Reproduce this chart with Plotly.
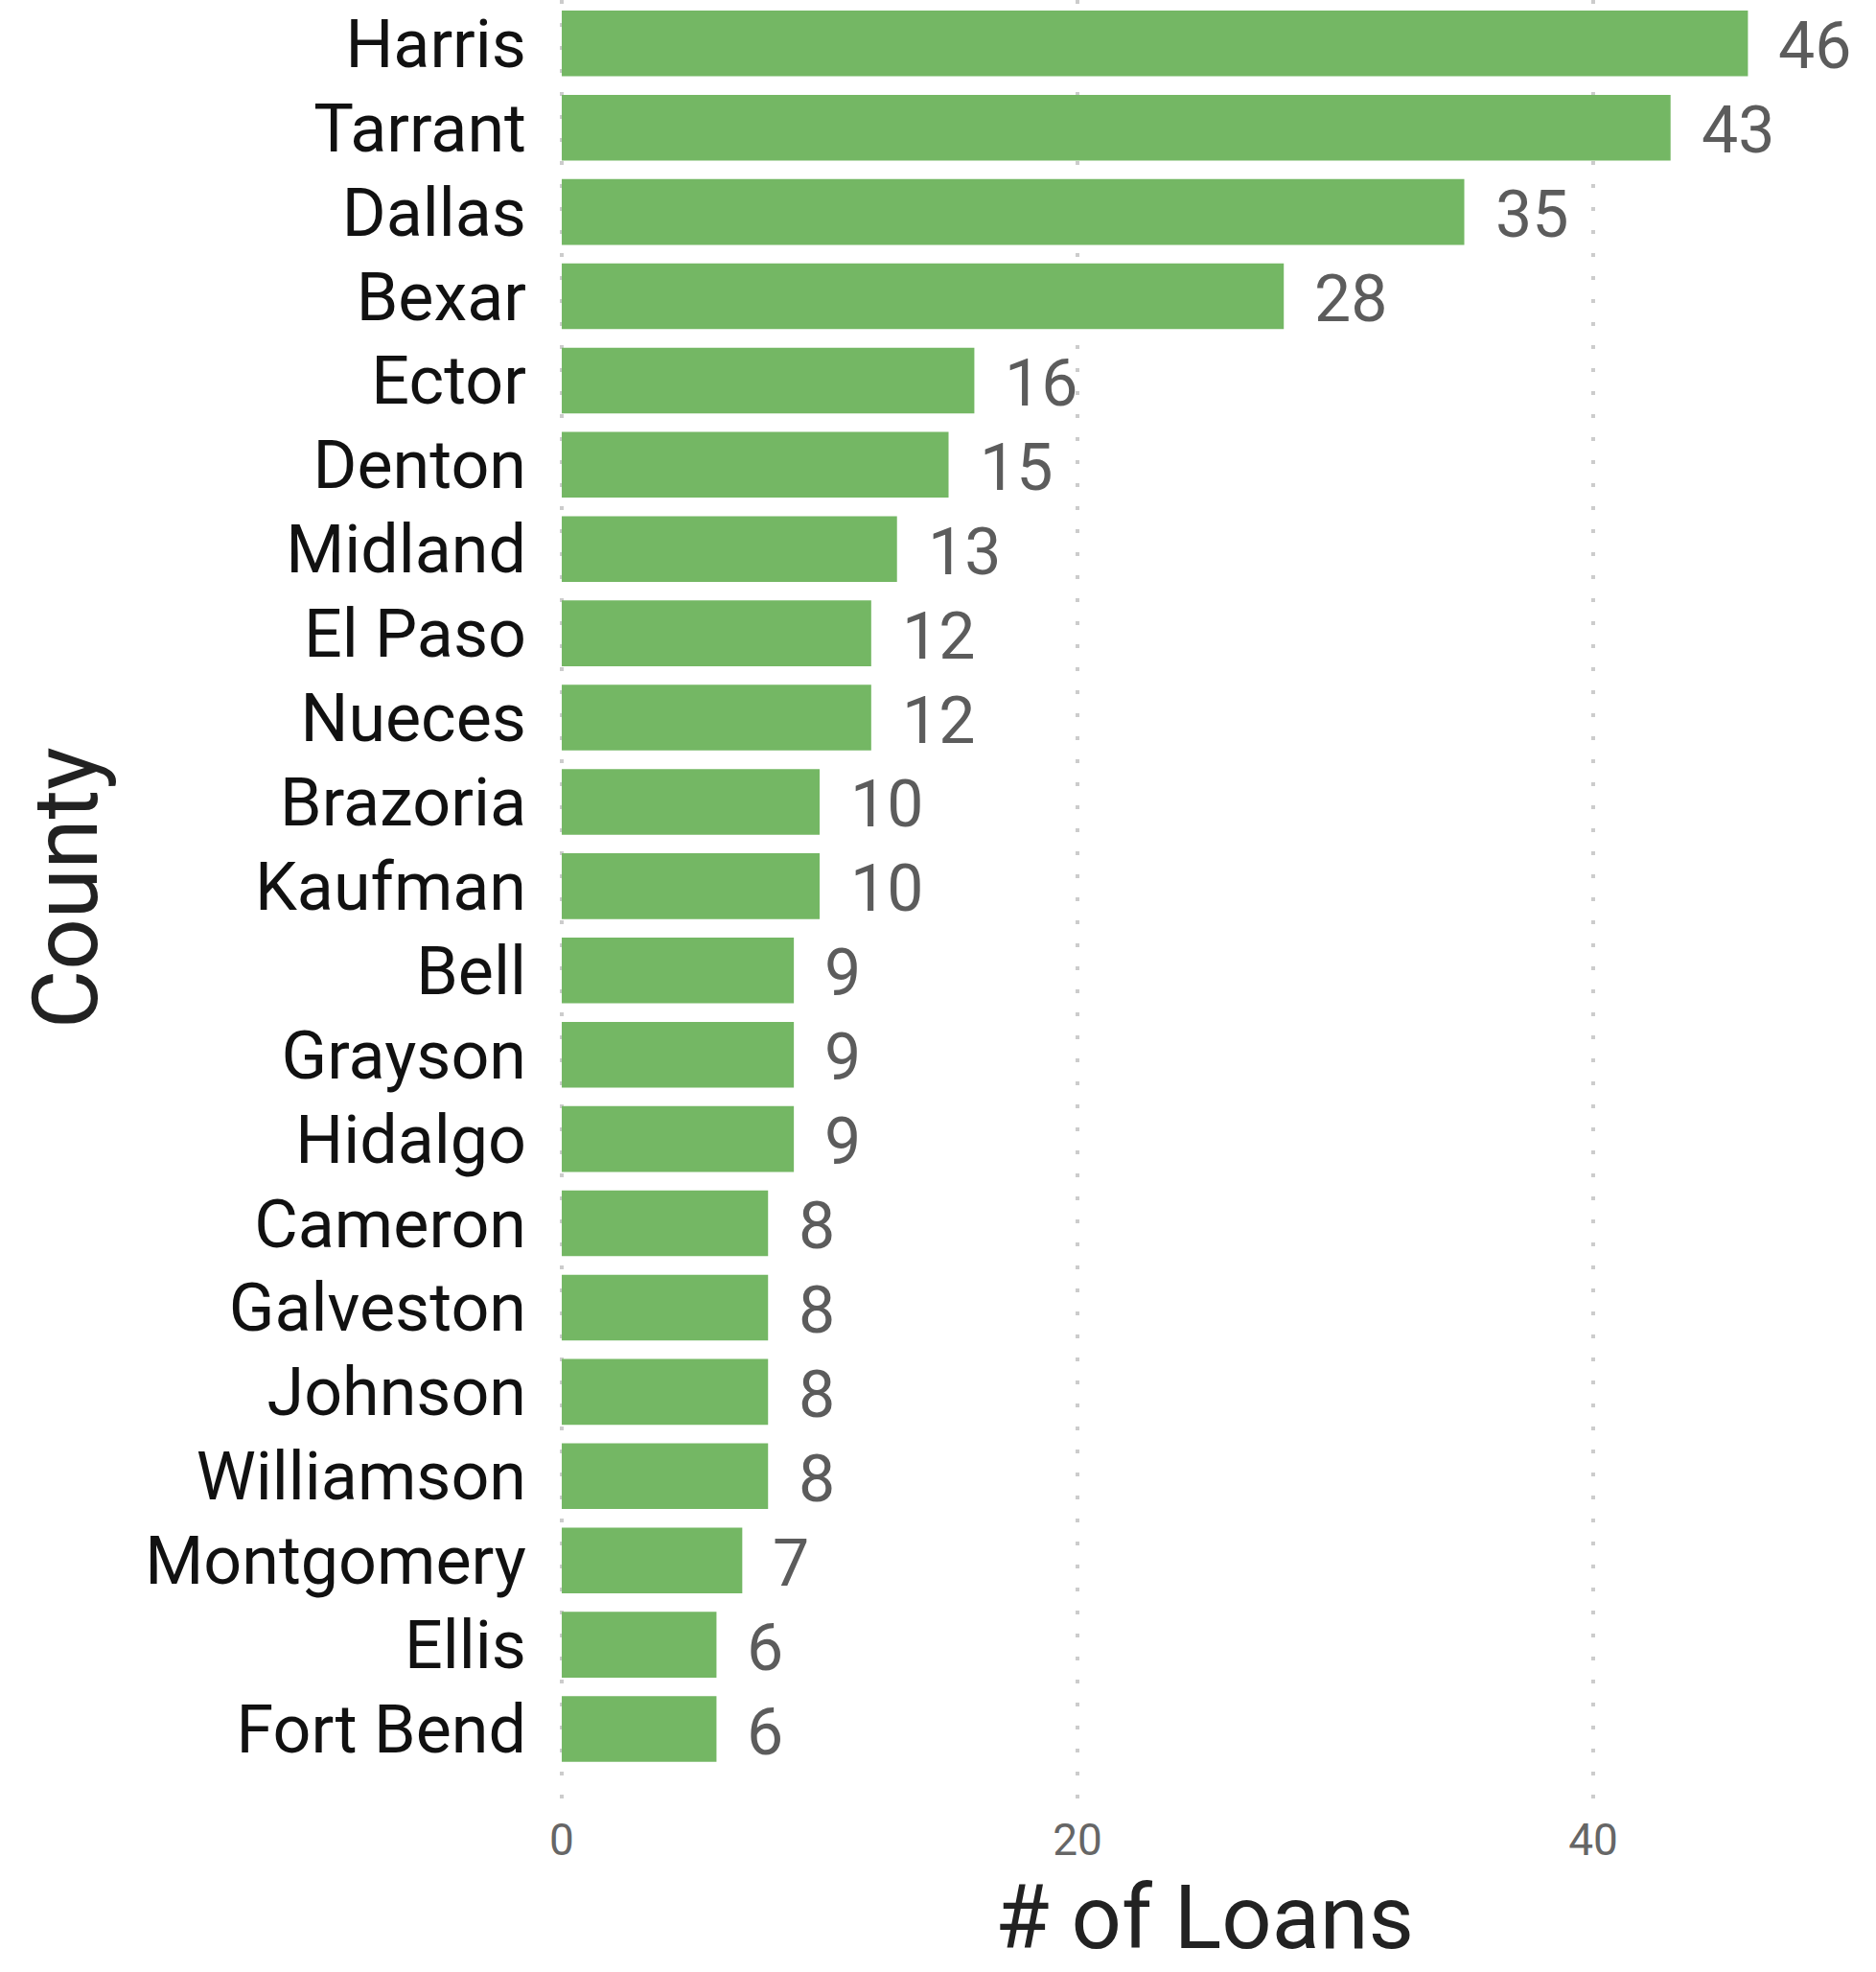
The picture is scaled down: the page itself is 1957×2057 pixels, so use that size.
import plotly.graph_objects as go

# Loan counts by Texas county
counties = ["Harris", "Tarrant", "Dallas", "Bexar", "Ector", "Denton", "Midland",
            "El Paso", "Nueces", "Brazoria", "Kaufman", "Bell", "Grayson", "Hidalgo",
            "Cameron", "Galveston", "Johnson", "Williamson", "Montgomery", "Ellis",
            "Fort Bend"]
loans = [46, 43, 35, 28, 16, 15, 13, 12, 12, 10, 10, 9, 9, 9, 8, 8, 8, 8, 7, 6, 6]
x_ticks = [0, 20, 40]

BAR_COLOR = "#74B764"
FONT = "Roboto"

fig = go.Figure()
fig.add_trace(go.Bar(
    x=loans,
    y=counties,
    orientation="h",
    marker=dict(color=BAR_COLOR, line=dict(width=0)),
    width=0.78,
    hoverinfo="x+y",
))

# value labels just past the end of each bar
for c, v in zip(counties, loans):
    fig.add_annotation(
        x=v, y=c, text=str(v), showarrow=False,
        xanchor="left", yanchor="middle", xshift=30, yshift=-3,
        font=dict(family=FONT, size=68, color="#5c5c5c"),
    )

# axis titles
fig.add_annotation(
    text="County", textangle=-90, showarrow=False,
    xref="paper", yref="paper", x=0, y=0.5,
    xanchor="center", yanchor="middle", xshift=-513, yshift=14,
    font=dict(family=FONT, size=94, color="#222222"),
)
fig.add_annotation(
    text="# of Loans", showarrow=False,
    xref="paper", yref="paper", x=0.5, y=0,
    xanchor="center", yanchor="middle", yshift=-120,
    font=dict(family=FONT, size=92, color="#222222"),
)

fig.update_layout(
    width=1957, height=2057,
    margin=dict(l=582, r=26, t=0, b=177, pad=0),
    plot_bgcolor="white", paper_bgcolor="white",
    showlegend=False,
    font=dict(family=FONT),
    xaxis=dict(
        range=[-0.15, 50],
        tickvals=x_ticks,
        ticktext=[str(t) for t in x_ticks],
        showgrid=True, gridcolor="#cccccc", gridwidth=4,
        griddash="4px,20px",
        zeroline=False, showline=False, ticks="",
        tickfont=dict(family=FONT, size=46, color="#666666"),
        ticklabelstandoff=8,
        automargin=False,
    ),
    yaxis=dict(
        categoryorder="array", categoryarray=counties,
        range=[20.87, -0.515],
        showgrid=False, zeroline=False, showline=False, ticks="",
        tickfont=dict(family=FONT, size=70, color="#111111"),
        ticklabelstandoff=32,
        automargin=False,
    ),
)

fig.write_html("out.html")
